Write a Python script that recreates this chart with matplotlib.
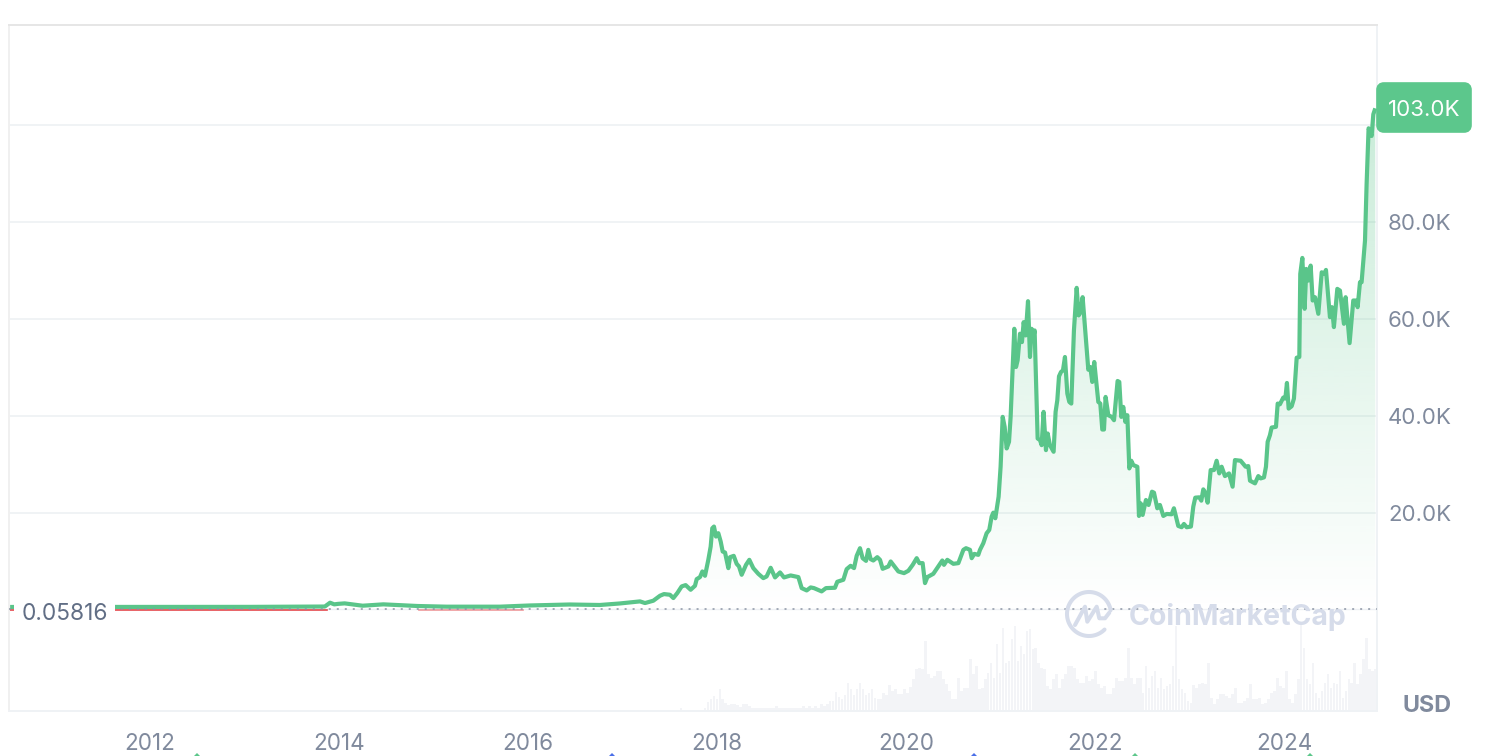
import numpy as np
import matplotlib
matplotlib.use("Agg")
import matplotlib.pyplot as plt
from matplotlib.patches import FancyBboxPatch, Rectangle

plt.rcParams["font.family"] = ["Inter", "DejaVu Sans"]

# price in thousands of USD
price_years = [
    2010.52, 2011.63, 2013.06, 2013.59, 2013.85, 2013.905, 2013.95, 2013.99, 2014.06, 2014.25, 2014.47, 2014.83,
    2015.14, 2015.70, 2016.02, 2016.44, 2016.76, 2016.97,
    2017.185, 2017.238, 2017.326, 2017.397, 2017.439, 2017.502, 2017.538, 2017.580, 2017.626, 2017.668,
    2017.721, 2017.767, 2017.785, 2017.820, 2017.845, 2017.873, 2017.908, 2017.933, 2017.950, 2017.968,
    2017.989, 2018.014, 2018.039, 2018.060, 2018.085, 2018.120, 2018.138, 2018.177, 2018.208, 2018.233,
    2018.261, 2018.307, 2018.342, 2018.384, 2018.437, 2018.490, 2018.525, 2018.568, 2018.614, 2018.667,
    2018.709, 2018.779, 2018.861, 2018.896, 2018.949, 2018.991, 2019.026, 2019.107, 2019.153, 2019.248,
    2019.273, 2019.337, 2019.372, 2019.414, 2019.450, 2019.478, 2019.513, 2019.541, 2019.577, 2019.601,
    2019.626, 2019.654, 2019.696, 2019.725, 2019.753, 2019.813, 2019.838, 2019.919, 2019.979, 2020.025,
    2020.071, 2020.113, 2020.141, 2020.176, 2020.201, 2020.226, 2020.289, 2020.353, 2020.384, 2020.402,
    2020.437, 2020.501, 2020.554, 2020.607, 2020.635, 2020.677, 2020.695, 2020.723, 2020.765,
    2020.783, 2020.818, 2020.853, 2020.881, 2020.906, 2020.924, 2020.945, 2020.980, 2021.001, 2021.023,
    2021.044, 2021.065, 2021.090, 2021.107, 2021.128, 2021.146, 2021.164, 2021.181, 2021.206, 2021.227,
    2021.245, 2021.266, 2021.291, 2021.312, 2021.329, 2021.347, 2021.361, 2021.382, 2021.393, 2021.418,
    2021.435, 2021.456, 2021.481, 2021.499, 2021.523, 2021.562, 2021.583, 2021.601, 2021.619, 2021.640,
    2021.661, 2021.682, 2021.707, 2021.728, 2021.749, 2021.777, 2021.806, 2021.827, 2021.848, 2021.869,
    2021.894, 2021.929, 2021.950, 2021.971, 2021.992, 2022.017, 2022.035, 2022.056, 2022.077, 2022.095,
    2022.112, 2022.141, 2022.176, 2022.201, 2022.239, 2022.257, 2022.278, 2022.299, 2022.321, 2022.342,
    2022.363, 2022.384, 2022.405, 2022.448, 2022.465, 2022.483, 2022.504, 2022.539, 2022.567, 2022.603,
    2022.624, 2022.659, 2022.687, 2022.723, 2022.758, 2022.811, 2022.835, 2022.881, 2022.917, 2022.941,
    2022.970, 2023.015, 2023.040, 2023.061, 2023.104, 2023.125, 2023.146, 2023.171, 2023.192, 2023.224,
    2023.259, 2023.287, 2023.315, 2023.340, 2023.375, 2023.418, 2023.456, 2023.481, 2023.541, 2023.594,
    2023.622, 2023.640, 2023.693, 2023.728, 2023.753, 2023.788, 2023.809, 2023.827, 2023.851, 2023.869,
    2023.915, 2023.933, 2023.957, 2023.992, 2024.014, 2024.031, 2024.049, 2024.081, 2024.105, 2024.134,
    2024.162, 2024.172, 2024.194, 2024.218, 2024.236, 2024.257, 2024.282, 2024.303, 2024.328, 2024.363,
    2024.399, 2024.427, 2024.444, 2024.486, 2024.507, 2024.528, 2024.564, 2024.592, 2024.634, 2024.652,
    2024.694, 2024.733, 2024.758, 2024.779, 2024.804, 2024.821, 2024.857, 2024.874, 2024.895, 2024.927,
    2024.945, 2024.966,
]
price_k = [
    0.56, 0.56, 0.58, 0.62, 0.65, 1.44, 1.10, 1.20, 1.30, 0.82, 1.10, 0.76,
    0.62, 0.62, 0.87, 1.07, 0.97, 1.28,
    1.71, 1.37, 1.85, 2.88, 3.22, 3.08, 2.40, 3.43, 4.80, 5.07,
    4.11, 4.93, 6.30, 6.72, 7.88, 6.99, 10.28, 13.02, 16.79, 17.14,
    15.08, 15.77, 14.05, 11.99, 11.79, 8.57, 10.83, 11.10, 9.46, 8.91,
    7.20, 9.25, 10.28, 8.57, 7.40, 6.51, 6.85, 8.64, 6.65, 7.68,
    6.65, 7.06, 6.72, 4.45, 3.97, 4.59, 4.45, 3.77, 4.45, 4.52,
    5.76, 6.17, 8.36, 9.05, 8.57, 11.10, 12.68, 10.62, 10.07, 12.34,
    10.42, 10.14, 10.83, 10.28, 8.43, 8.91, 9.94, 7.88, 7.54, 8.02,
    9.25, 10.62, 9.60, 9.60, 5.48, 6.72, 7.40, 9.25, 10.14, 9.25,
    10.28, 9.46, 9.60, 12.34, 12.68, 12.34, 10.62, 11.51, 11.31,
    12.34, 13.71, 15.76, 16.45, 19.19, 20.01, 18.85, 23.30, 29.47, 39.76,
    37.70, 33.25, 34.62, 39.76, 49.35, 57.92, 50.04, 51.41, 56.90, 55.18,
    59.29, 56.55, 63.61, 52.10, 57.92, 56.21, 57.58, 42.50, 35.30, 34.96,
    33.93, 40.79, 32.90, 36.33, 33.93, 32.56, 40.79, 43.19, 48.12, 49.01,
    49.35, 52.10, 44.56, 42.84, 42.50, 57.58, 66.36, 60.67, 61.35, 64.44,
    58.27, 49.49, 50.04, 46.96, 51.07, 46.27, 42.84, 42.50, 37.15, 37.15,
    43.87, 40.10, 39.76, 39.07, 47.16, 46.96, 39.76, 41.81, 38.73, 40.10,
    29.13, 30.71, 29.82, 29.47, 19.33, 21.93, 19.54, 22.62, 21.59, 24.33,
    24.13, 20.91, 21.59, 19.33, 19.74, 19.67, 20.91, 17.27, 17.00, 17.68,
    17.00, 17.14, 21.25, 23.10, 23.17, 22.48, 24.81, 23.99, 22.07, 28.79,
    28.79, 30.71, 28.10, 29.48, 27.55, 28.10, 25.36, 30.85, 30.71, 29.48,
    29.61, 26.60, 26.05, 27.55, 27.07, 27.28, 29.48, 34.62, 35.98, 37.56,
    37.70, 42.50, 42.36, 43.73, 43.53, 46.75, 41.47, 41.95, 43.53, 51.96,
    52.10, 69.23, 72.53, 62.04, 70.26, 67.86, 70.95, 63.75, 64.43, 61.01,
    69.57, 69.23, 70.06, 60.32, 62.38, 58.27, 66.15, 65.80, 58.95, 64.43,
    54.97, 63.75, 63.75, 62.38, 67.52, 67.52, 76.09, 87.74, 99.26, 97.68,
    102.14, 103.37,
]

# volume bars from late 2017 on, in the same unit as their height on screen
volume = [
    3, 1, 1, 1, 1, 1, 1, 1, 3, 9, 12, 15, 12, 22, 12, 8, 6, 7, 7, 6, 4, 7, 7, 5, 3, 3, 3, 3, 3, 3, 3, 3,
    5, 3, 3, 3, 3, 3, 3, 3, 3, 5, 3, 5, 3, 5, 3, 7, 5, 7, 10, 10, 19, 14, 12, 16, 28, 22, 16, 22, 28, 22,
    16, 18, 22, 13, 12, 12, 18, 16, 26, 20, 22, 17, 17, 22, 18, 24, 32, 42,
    43, 42, 70, 37, 33, 35, 40, 40, 32, 27, 20, 12, 12, 33, 20, 23, 23, 52, 37, 45, 22, 23, 32, 38, 48, 33,
    67, 38, 83, 48, 50, 72, 85, 50, 65, 57, 80, 82, 62, 63, 48, 43, 42, 25, 22, 32, 37, 23, 32, 37, 45, 45,
    43, 32, 28, 28, 35, 30, 32, 40, 27, 23, 25, 17, 17, 23, 33, 30, 30, 33, 63, 33, 27, 33,
    33, 18, 45, 23, 35, 40, 23, 33, 22, 25, 27, 45, 85, 32, 22, 18, 10, 8, 26, 23, 27, 28, 27, 48, 13, 7,
    12, 17, 17, 15, 13, 17, 23, 8, 8, 10, 13, 27, 12, 12, 13, 7, 8, 12, 18, 20, 33, 25, 23, 40, 12, 8,
    17, 32, 87, 63, 32, 27, 48, 18, 13, 20, 28, 37, 23, 28, 27, 40, 13, 20, 32, 28, 48, 27, 37, 52, 73, 42,
    40, 42,
]
volume_years = np.linspace(2017.62, 2024.97, len(volume))

baseline_k = 0.15
red_k = 0.0
baseline_label = "0.05816"
last_label = "103.0K"
red_spans = [(2010.52, 2013.87, 1.0), (2014.85, 2015.95, 0.55)]
year_ticks = [2012, 2014, 2016, 2018, 2020, 2022, 2024]
price_ticks = [20, 40, 60, 80, 100]
price_tick_labels = ["20.0K", "40.0K", "60.0K", "80.0K", ""]
event_years = [2012.50, 2016.89, 2020.72, 2022.42, 2024.28]
event_colors = ["#5cc78a", "#4a6fe8", "#4a6fe8", "#5cc78a", "#5cc78a"]

GREEN = "#5ac58a"
GRID = "#eff2f5"
LABEL = "#808a9d"
W, H = 1504, 756

fig = plt.figure(figsize=(W / 100, H / 100), dpi=100)
ax = fig.add_axes([9 / W, (H - 711) / H, (1377 - 9) / W, (711 - 25) / H])

ax.set_xlim(2010.508, 2024.984)
ax.set_ylim(-20.89, 120.56)

# volume sits on its own scale, one unit per pixel
vol_ax = ax.twinx()
vol_ax.set_ylim(0, 686)
vol_ax.bar(volume_years, volume, width=(volume_years[1] - volume_years[0]) * 0.9, color="#f3f4f7", linewidth=0)
vol_ax.set_yticks([])
vol_ax.patch.set_visible(False)
for s in vol_ax.spines.values():
    s.set_visible(False)
ax.set_zorder(vol_ax.get_zorder() + 1)
ax.patch.set_visible(False)

# gradient under the price line
shade = np.zeros((256, 1, 4))
shade[:, :, :3] = matplotlib.colors.to_rgb(GREEN)
shade[:, 0, 3] = np.linspace(0.33, 0, 256)
poly = ax.fill_between(price_years, price_k, 0, color="none", linewidth=0)
img = ax.imshow(shade, extent=[2010.508, 2024.984, 0, 103.4], aspect="auto", zorder=1, interpolation="bilinear")
img.set_clip_path(poly.get_paths()[0], transform=ax.transData)
ax.set_xlim(2010.508, 2024.984)
ax.set_ylim(-20.89, 120.56)

for start, end, alpha in red_spans:
    ax.plot([start, end], [red_k, red_k], color="#e5484d", lw=1.2, alpha=alpha, zorder=2)
ax.plot(price_years, price_k, color=GREEN, lw=3.0, solid_joinstyle="round", solid_capstyle="butt", zorder=3)
ax.axhline(baseline_k, color="#eef0f4", lw=1.0, zorder=1.5)
ax.axhline(baseline_k, color="#8a93a3", lw=1.08, linestyle=(0, (1.33, 4)), zorder=4)

ax.set_yticks(price_ticks)
ax.set_yticklabels(price_tick_labels)
ax.set_xticks(year_ticks)
ax.set_xticklabels([str(y) for y in year_ticks])
ax.yaxis.tick_right()
ax.tick_params(axis="y", length=0, pad=8, labelsize=16, labelcolor=LABEL)
ax.tick_params(axis="x", length=0, pad=16, labelsize=16.2, labelcolor=LABEL)
ax.grid(True, axis="y", color=GRID, lw=1.3)
ax.set_axisbelow(True)
for name, color in [("top", "#e6e6e6"), ("left", "#f0f0f0"), ("right", GRID), ("bottom", GRID)]:
    ax.spines[name].set_color(color)
    ax.spines[name].set_linewidth(1.4)

# release markers poking in at the bottom edge
for yr, c in zip(event_years, event_colors):
    ax.plot([yr], [-0.0743], marker="D", ms=9.2, color=c, mew=0, clip_on=False,
            transform=ax.get_xaxis_transform(), zorder=5)

# overlay in screen pixels for the badge, labels and watermark
ov = fig.add_axes([0, 0, 1, 1], zorder=20)
ov.set_xlim(0, W)
ov.set_ylim(H, 0)
ov.axis("off")
ov.patch.set_visible(False)

ov.add_patch(Rectangle((14, 598), 101, 28, color="white", lw=0))
ov.text(22, 614.5, baseline_label, ha="left", va="center", fontsize=16.3, color="#616e85")

ov.add_patch(FancyBboxPatch((1380, 86), 88, 43, boxstyle="round,pad=0,rounding_size=4", mutation_aspect=1,
                            facecolor="#5cc78c", edgecolor="#5cc78c", lw=5.5))
ov.text(1424, 110, last_label, ha="center", va="center", fontsize=16, color="white")
ov.text(1427, 706, "USD", ha="center", va="center", fontsize=16.8, fontweight="bold", color=LABEL)

LOGO = "#d6dcea"
theta = np.radians(np.linspace(45, 350, 80))
ov.plot(1089 + 22 * np.cos(theta), 614 + 22 * np.sin(theta), color=LOGO, lw=2.9, solid_capstyle="round")
ov.plot([1075, 1085, 1087.3, 1096.7, 1099.3, 1105, 1109.3], [625, 606.7, 621.7, 606.7, 618.3, 618.3, 612.7],
        color=LOGO, lw=2.9, solid_joinstyle="round", solid_capstyle="round")
ov.text(1129, 617, "CoinMarketCap", ha="left", va="center", fontsize=20.5, fontweight="bold", color=LOGO)

fig.savefig("out.png", dpi=100)
